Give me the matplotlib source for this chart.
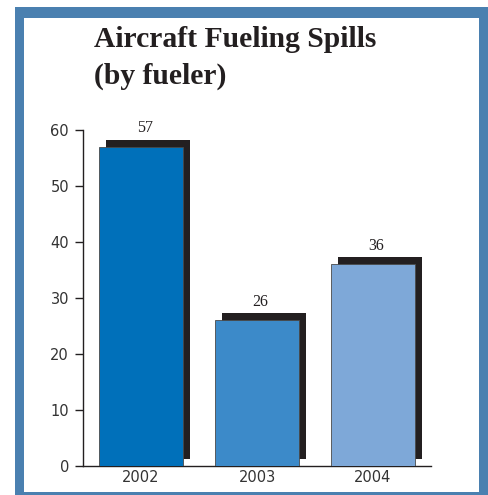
import matplotlib
matplotlib.use('Agg')
import matplotlib.pyplot as plt
from matplotlib.patches import Rectangle

# Données
years = ['2002', '2003', '2004']
spills = [57, 26, 36]
bar_colors = ['#0070ba', '#3c8ac9', '#7ea8d8']

W, H = 488, 495
fig = plt.figure(figsize=(W / 100, H / 100), dpi=100)

# Cadre bleu autour du graphique (derrière les axes)
fig.add_artist(Rectangle((15 / W, 0), 1 - 15 / W, 1 - 7 / H, transform=fig.transFigure,
                         facecolor='#4a80b0', edgecolor='none', zorder=-10))
fig.add_artist(Rectangle((24 / W, 3 / H), (479 - 24) / W, (491 - 17) / H, transform=fig.transFigure,
                         facecolor='white', edgecolor='none', zorder=-9))

ax = fig.add_axes([83 / W, 1 - 466 / H, (431 - 83) / W, (466 - 130) / H])
ax.set_facecolor('none')

x = range(len(years))
width = 0.724
dx, dy = 0.062, 1.3

# Ombres portées puis barres
ax.bar([i + dx for i in x], spills, width=width, bottom=dy, color='#231f20', zorder=2)
ax.bar(x, spills, width=width, color=bar_colors, edgecolor='#4a4a4a', linewidth=0.6, zorder=3)

for i, v in zip(x, spills):
    ax.text(i + dx / 2, v + dy + 0.6, str(v), ha='center', va='bottom',
            family='Liberation Serif', fontsize=11.5, color='#231f20', clip_on=False)

ax.set_xlim(-0.5, 2.5)
ax.set_ylim(0, 60)
ax.set_yticks(range(0, 61, 10))
ax.set_xticks(list(x))
ax.set_xticklabels(years)
ax.spines['top'].set_visible(False)
ax.spines['right'].set_visible(False)
for s in ('left', 'bottom'):
    ax.spines[s].set_color('#231f20')
    ax.spines[s].set_linewidth(1.0)
ax.tick_params(axis='y', length=6, width=1, color='#231f20', labelsize=10.5, labelcolor='#333333', pad=4)
ax.tick_params(axis='x', length=0, labelsize=10.5, labelcolor='#333333', pad=3)

title_kw = dict(ha='left', va='baseline', family='Liberation Serif', fontweight='bold',
                fontsize=21.3, color='#231f20')
fig.text(94 / W, 1 - 47 / H, 'Aircraft Fueling Spills', **title_kw)
fig.text(94 / W, 1 - 84 / H, '(by fueler)', **title_kw)

fig.savefig('out.png', dpi=100)
